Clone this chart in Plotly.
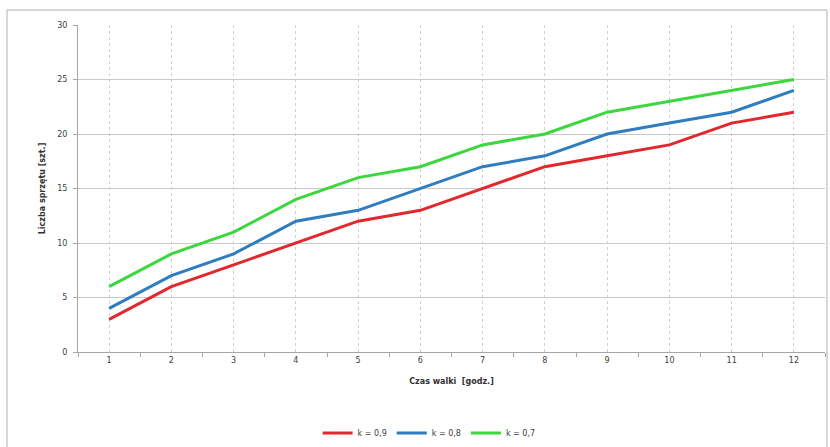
import plotly.graph_objects as go

# Czas walki [godz.]
hours = [1, 2, 3, 4, 5, 6, 7, 8, 9, 10, 11, 12]

# Liczba sprzętu [szt.] for each coefficient k
k09 = [3, 6, 8, 10, 12, 13, 15, 17, 18, 19, 21, 22]
k08 = [4, 7, 9, 12, 13, 15, 17, 18, 20, 21, 22, 24]
k07 = [6, 9, 11, 14, 16, 17, 19, 20, 22, 23, 24, 25]

series_names = ["k = 0,9", "k = 0,8", "k = 0,7"]
series_colors = ["#e0282e", "#2f7dbf", "#3ed63e"]

y_ticks = [0, 5, 10, 15, 20, 25, 30]

fig = go.Figure()
for name, vals, col in zip(series_names, [k09, k08, k07], series_colors):
    fig.add_trace(go.Scatter(
        x=hours, y=vals, name=name, mode="lines",
        line=dict(color=col, width=3),
    ))

font_family = "DejaVu Sans, Arial, sans-serif"
W, H = 830, 447
ml, mr, mt, mb = 78, 5, 25, 95

fig.update_layout(
    width=W, height=H,
    margin=dict(l=ml, r=mr, t=mt, b=mb, autoexpand=False),
    paper_bgcolor="white",
    plot_bgcolor="white",
    font=dict(family=font_family, size=8, color="#404040"),
    showlegend=True,
    legend=dict(
        orientation="h", x=0.47, xanchor="center", y=-0.248, yanchor="middle",
        font=dict(size=8, color="#404040"),
        itemwidth=30, tracegroupgap=0,
    ),
    xaxis=dict(
        range=[0.5, 12.5], automargin=False,
        tickvals=hours, ticktext=[str(h) for h in hours],
        showgrid=True, gridcolor="#d0d0d0", griddash="dot", gridwidth=1,
        showline=True, linecolor="#a6a6a6", linewidth=1,
        ticks="", zeroline=False,
        minor=dict(tickvals=[h + 0.5 for h in [0] + hours], ticks="outside",
                   ticklen=4, tickcolor="#a6a6a6", showgrid=False),
        title=dict(text="<b>Czas walki  [godz.]</b>", font=dict(size=8, color="#303030"),
                   standoff=14),
        tickfont=dict(size=8, color="#404040"),
    ),
    yaxis=dict(
        range=[0, 30], tickvals=y_ticks, automargin=False,
        showgrid=True, gridcolor="#c8c8c8", gridwidth=1,
        showline=True, linecolor="#a6a6a6", linewidth=1,
        ticks="outside", ticklen=4, tickcolor="#a6a6a6",
        ticklabelstandoff=4,
        zeroline=False,
        title=dict(text="<b>Liczba sprzętu [szt.]</b>", font=dict(size=8, color="#303030"),
                   standoff=10),
        tickfont=dict(size=8, color="#404040"),
    ),
)

# outer chart-area frame
pw = W - ml - mr
ph = H - mt - mb
fig.add_shape(
    type="rect", xref="paper", yref="paper",
    x0=(7 - ml) / pw, x1=(827 - ml) / pw,
    y0=-(H + 2 - mt - ph) / ph, y1=(H - 10 - mb) / ph,
    line=dict(color="#b0b0b0", width=1), fillcolor="rgba(0,0,0,0)", layer="below",
)

fig.write_html("out.html")
